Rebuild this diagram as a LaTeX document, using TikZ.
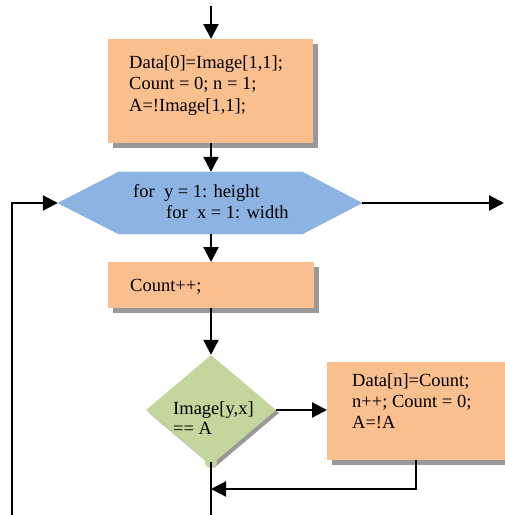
\documentclass[tikz,border=0pt]{standalone}
\usepackage{fontspec}
\setmainfont{Liberation Serif}
\usetikzlibrary{arrows.meta,shapes.geometric,shadows}
\definecolor{boxorange}{HTML}{FABF8F}
\definecolor{hexblue}{HTML}{8DB3E2}
\definecolor{diagreen}{HTML}{C3D69B}
\definecolor{shadowgray}{HTML}{999999}
\definecolor{hexshadow}{HTML}{A2AB91}
\tikzset{
  x=1pt, y=-1pt,
  conn/.style={line width=2.2pt, -{Triangle[length=15pt,width=15pt]}},
  plain/.style={line width=2.2pt},
  boxshadow/.style={drop shadow={shadow xshift=5pt, shadow yshift=-5pt, fill=shadowgray, opacity=1}},
  box/.style={rectangle, fill=boxorange, inner sep=0pt, anchor=north west, boxshadow},
  txt/.style={anchor=base west, inner sep=0pt, align=left, font=\fontsize{18.5}{21.5}\selectfont},
}
\begin{document}
\begin{tikzpicture}
\useasboundingbox (0,0) rectangle (505,515);
\begin{scope}
\clip (0,0) rectangle (505,515);
% boxes
\node[box, minimum width=205pt, minimum height=104pt] (b1) at (108,39) {};
\node[box, minimum width=206pt, minimum height=46pt] (b2) at (108,262) {};
\fill[shadowgray] (332,367) rectangle (520,465);
\node[rectangle, fill=boxorange, inner sep=0pt, anchor=north west, minimum width=193pt, minimum height=98pt] (b3) at (327,362) {};
% hexagon
\node[minimum width=304pt, minimum height=62pt, inner sep=0pt] (hex) at (210,203) {};
\fill[hexshadow, shift={(1,4)}] (hex.west) -- ([xshift=61pt]hex.north west) -- ([xshift=-60pt]hex.north east) -- (hex.east) -- ([xshift=-60pt]hex.south east) -- ([xshift=61pt]hex.south west) -- cycle;
\fill[hexblue] (hex.west) -- ([xshift=61pt]hex.north west) -- ([xshift=-60pt]hex.north east) -- (hex.east) -- ([xshift=-60pt]hex.south east) -- ([xshift=61pt]hex.south west) -- cycle;
% diamond
\node[diamond, fill=diagreen, inner sep=0pt, minimum width=130pt, minimum height=110pt, aspect=1.18,
  drop shadow={shadow xshift=3pt, shadow yshift=-3pt, fill=shadowgray, opacity=1}] (dia) at (211,410) {};
\node[circle, fill=diagreen, minimum size=12pt, inner sep=0pt] (blob) at (211,462) {};
% texts (base anchor = last line baseline)
\node[txt] (t1) at (129,111) {Data[0]=Image[1,1];\\Count = 0; n = 1;\\A=!Image[1,1];};
\node[txt, font=\fontsize{18.5}{21}\selectfont] (t2) at (133,218) {for\ \ y = 1: height\\\hspace*{33pt}for\ \ x = 1: width};
\node[txt] (t3) at (130,291) {Count++;};
\node[txt, font=\fontsize{18.5}{20}\selectfont] (t4) at (173,434) {Image[y,x]\\== A};
\node[txt, font=\fontsize{18.5}{21}\selectfont] (t5) at (352,428) {Data[n]=Count;\\n++; Count = 0;\\A=!A};
% connectors
\coordinate (start) at (211,6);
\coordinate (loopstart) at (12,520);
\coordinate (exit) at (504,203);
\coordinate (join) at (211,489);
\coordinate (b3out) at (416,460);
\coordinate (bottom) at (211,520);
\draw[conn] (start) -- (start |- b1.north);
\draw[conn] (b1.south -| start) -- (start |- hex.north);
\draw[conn] (hex.south -| start) -- (start |- b2.north);
\draw[conn] (b2.south -| start) -- (dia.north);
\draw[conn] (dia.east) -- (dia.east -| b3.west);
\draw[conn] (b3out) |- (join);
\draw[plain] (blob.center) -- (bottom);
\draw[conn] (loopstart) |- (hex.west);
\draw[conn] (hex.east) -- (exit);
\end{scope}
\end{tikzpicture}
\end{document}
